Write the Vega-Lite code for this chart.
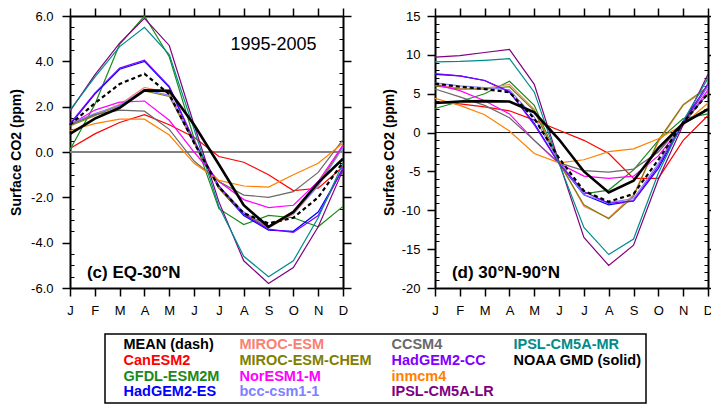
{
"$schema": "https://vega.github.io/schema/vega-lite/v6.json",
"padding": {"left": 9, "top": 7, "right": 5, "bottom": 5},
"config": {
  "font": "Liberation Sans",
  "view": {"stroke": null},
  "locale": {"number": {"decimal": ".", "thousands": ",", "grouping": [3], "currency": ["$", ""], "minus": "-"}},
  "axis": {"grid": false, "domainColor": "black", "domainWidth": 2, "tickColor": "black", "tickWidth": 1.5, "labelColor": "black", "labelFont": "Liberation Sans", "labelFontSize": 13, "titleFont": "Liberation Sans", "titleFontSize": 14, "titleFontWeight": "bold", "titleColor": "black"}
},
"datasets": {"co2": [
{"region":"EQ-30N","model":"MEAN","month":1,"co2":1.2},{"region":"EQ-30N","model":"MEAN","month":2,"co2":2.15},{"region":"EQ-30N","model":"MEAN","month":3,"co2":3.0},{"region":"EQ-30N","model":"MEAN","month":4,"co2":3.45},{"region":"EQ-30N","model":"MEAN","month":5,"co2":2.55},{"region":"EQ-30N","model":"MEAN","month":6,"co2":0.4},{"region":"EQ-30N","model":"MEAN","month":7,"co2":-1.55},{"region":"EQ-30N","model":"MEAN","month":8,"co2":-2.7},{"region":"EQ-30N","model":"MEAN","month":9,"co2":-3.15},{"region":"EQ-30N","model":"MEAN","month":10,"co2":-2.9},{"region":"EQ-30N","model":"MEAN","month":11,"co2":-2.0},{"region":"EQ-30N","model":"MEAN","month":12,"co2":-0.45},
{"region":"EQ-30N","model":"NOAA GMD (solid)","month":1,"co2":0.8},{"region":"EQ-30N","model":"NOAA GMD (solid)","month":2,"co2":1.47},{"region":"EQ-30N","model":"NOAA GMD (solid)","month":3,"co2":1.95},{"region":"EQ-30N","model":"NOAA GMD (solid)","month":4,"co2":2.72},{"region":"EQ-30N","model":"NOAA GMD (solid)","month":5,"co2":2.7},{"region":"EQ-30N","model":"NOAA GMD (solid)","month":6,"co2":1.2},{"region":"EQ-30N","model":"NOAA GMD (solid)","month":7,"co2":-0.55},{"region":"EQ-30N","model":"NOAA GMD (solid)","month":8,"co2":-2.35},{"region":"EQ-30N","model":"NOAA GMD (solid)","month":9,"co2":-3.3},{"region":"EQ-30N","model":"NOAA GMD (solid)","month":10,"co2":-2.65},{"region":"EQ-30N","model":"NOAA GMD (solid)","month":11,"co2":-1.35},{"region":"EQ-30N","model":"NOAA GMD (solid)","month":12,"co2":-0.3},
{"region":"EQ-30N","model":"CanESM2","month":1,"co2":0.15},{"region":"EQ-30N","model":"CanESM2","month":2,"co2":0.8},{"region":"EQ-30N","model":"CanESM2","month":3,"co2":1.3},{"region":"EQ-30N","model":"CanESM2","month":4,"co2":1.65},{"region":"EQ-30N","model":"CanESM2","month":5,"co2":1.2},{"region":"EQ-30N","model":"CanESM2","month":6,"co2":0.65},{"region":"EQ-30N","model":"CanESM2","month":7,"co2":-0.2},{"region":"EQ-30N","model":"CanESM2","month":8,"co2":-0.45},{"region":"EQ-30N","model":"CanESM2","month":9,"co2":-1.0},{"region":"EQ-30N","model":"CanESM2","month":10,"co2":-1.7},{"region":"EQ-30N","model":"CanESM2","month":11,"co2":-1.6},{"region":"EQ-30N","model":"CanESM2","month":12,"co2":-0.65},
{"region":"EQ-30N","model":"GFDL-ESM2M","month":1,"co2":0.1},{"region":"EQ-30N","model":"GFDL-ESM2M","month":2,"co2":2.1},{"region":"EQ-30N","model":"GFDL-ESM2M","month":3,"co2":4.75},{"region":"EQ-30N","model":"GFDL-ESM2M","month":4,"co2":6.0},{"region":"EQ-30N","model":"GFDL-ESM2M","month":5,"co2":4.2},{"region":"EQ-30N","model":"GFDL-ESM2M","month":6,"co2":0.6},{"region":"EQ-30N","model":"GFDL-ESM2M","month":7,"co2":-2.5},{"region":"EQ-30N","model":"GFDL-ESM2M","month":8,"co2":-3.2},{"region":"EQ-30N","model":"GFDL-ESM2M","month":9,"co2":-2.8},{"region":"EQ-30N","model":"GFDL-ESM2M","month":10,"co2":-2.9},{"region":"EQ-30N","model":"GFDL-ESM2M","month":11,"co2":-3.3},{"region":"EQ-30N","model":"GFDL-ESM2M","month":12,"co2":-2.4},
{"region":"EQ-30N","model":"HadGEM2-ES","month":1,"co2":1.2},{"region":"EQ-30N","model":"HadGEM2-ES","month":2,"co2":2.55},{"region":"EQ-30N","model":"HadGEM2-ES","month":3,"co2":3.65},{"region":"EQ-30N","model":"HadGEM2-ES","month":4,"co2":4.0},{"region":"EQ-30N","model":"HadGEM2-ES","month":5,"co2":2.85},{"region":"EQ-30N","model":"HadGEM2-ES","month":6,"co2":0.45},{"region":"EQ-30N","model":"HadGEM2-ES","month":7,"co2":-1.6},{"region":"EQ-30N","model":"HadGEM2-ES","month":8,"co2":-2.8},{"region":"EQ-30N","model":"HadGEM2-ES","month":9,"co2":-3.45},{"region":"EQ-30N","model":"HadGEM2-ES","month":10,"co2":-3.5},{"region":"EQ-30N","model":"HadGEM2-ES","month":11,"co2":-2.65},{"region":"EQ-30N","model":"HadGEM2-ES","month":12,"co2":-0.75},
{"region":"EQ-30N","model":"MIROC-ESM","month":1,"co2":1.2},{"region":"EQ-30N","model":"MIROC-ESM","month":2,"co2":1.65},{"region":"EQ-30N","model":"MIROC-ESM","month":3,"co2":2.1},{"region":"EQ-30N","model":"MIROC-ESM","month":4,"co2":2.85},{"region":"EQ-30N","model":"MIROC-ESM","month":5,"co2":2.6},{"region":"EQ-30N","model":"MIROC-ESM","month":6,"co2":0.5},{"region":"EQ-30N","model":"MIROC-ESM","month":7,"co2":-1.6},{"region":"EQ-30N","model":"MIROC-ESM","month":8,"co2":-2.7},{"region":"EQ-30N","model":"MIROC-ESM","month":9,"co2":-3.35},{"region":"EQ-30N","model":"MIROC-ESM","month":10,"co2":-2.75},{"region":"EQ-30N","model":"MIROC-ESM","month":11,"co2":-1.5},{"region":"EQ-30N","model":"MIROC-ESM","month":12,"co2":0.3},
{"region":"EQ-30N","model":"MIROC-ESM-CHEM","month":1,"co2":1.15},{"region":"EQ-30N","model":"MIROC-ESM-CHEM","month":2,"co2":1.6},{"region":"EQ-30N","model":"MIROC-ESM-CHEM","month":3,"co2":2.05},{"region":"EQ-30N","model":"MIROC-ESM-CHEM","month":4,"co2":2.7},{"region":"EQ-30N","model":"MIROC-ESM-CHEM","month":5,"co2":2.45},{"region":"EQ-30N","model":"MIROC-ESM-CHEM","month":6,"co2":0.4},{"region":"EQ-30N","model":"MIROC-ESM-CHEM","month":7,"co2":-1.6},{"region":"EQ-30N","model":"MIROC-ESM-CHEM","month":8,"co2":-2.75},{"region":"EQ-30N","model":"MIROC-ESM-CHEM","month":9,"co2":-3.3},{"region":"EQ-30N","model":"MIROC-ESM-CHEM","month":10,"co2":-2.6},{"region":"EQ-30N","model":"MIROC-ESM-CHEM","month":11,"co2":-1.4},{"region":"EQ-30N","model":"MIROC-ESM-CHEM","month":12,"co2":0.25},
{"region":"EQ-30N","model":"NorESM1-M","month":1,"co2":1.2},{"region":"EQ-30N","model":"NorESM1-M","month":2,"co2":1.85},{"region":"EQ-30N","model":"NorESM1-M","month":3,"co2":2.2},{"region":"EQ-30N","model":"NorESM1-M","month":4,"co2":2.25},{"region":"EQ-30N","model":"NorESM1-M","month":5,"co2":1.4},{"region":"EQ-30N","model":"NorESM1-M","month":6,"co2":0.0},{"region":"EQ-30N","model":"NorESM1-M","month":7,"co2":-1.3},{"region":"EQ-30N","model":"NorESM1-M","month":8,"co2":-2.1},{"region":"EQ-30N","model":"NorESM1-M","month":9,"co2":-2.45},{"region":"EQ-30N","model":"NorESM1-M","month":10,"co2":-2.35},{"region":"EQ-30N","model":"NorESM1-M","month":11,"co2":-1.3},{"region":"EQ-30N","model":"NorESM1-M","month":12,"co2":0.3},
{"region":"EQ-30N","model":"bcc-csm1-1","month":1,"co2":1.25},{"region":"EQ-30N","model":"bcc-csm1-1","month":2,"co2":1.7},{"region":"EQ-30N","model":"bcc-csm1-1","month":3,"co2":2.05},{"region":"EQ-30N","model":"bcc-csm1-1","month":4,"co2":2.75},{"region":"EQ-30N","model":"bcc-csm1-1","month":5,"co2":2.5},{"region":"EQ-30N","model":"bcc-csm1-1","month":6,"co2":0.45},{"region":"EQ-30N","model":"bcc-csm1-1","month":7,"co2":-1.5},{"region":"EQ-30N","model":"bcc-csm1-1","month":8,"co2":-2.65},{"region":"EQ-30N","model":"bcc-csm1-1","month":9,"co2":-3.3},{"region":"EQ-30N","model":"bcc-csm1-1","month":10,"co2":-2.7},{"region":"EQ-30N","model":"bcc-csm1-1","month":11,"co2":-1.5},{"region":"EQ-30N","model":"bcc-csm1-1","month":12,"co2":0.2},
{"region":"EQ-30N","model":"CCSM4","month":1,"co2":1.2},{"region":"EQ-30N","model":"CCSM4","month":2,"co2":1.65},{"region":"EQ-30N","model":"CCSM4","month":3,"co2":1.85},{"region":"EQ-30N","model":"CCSM4","month":4,"co2":1.8},{"region":"EQ-30N","model":"CCSM4","month":5,"co2":1.0},{"region":"EQ-30N","model":"CCSM4","month":6,"co2":-0.4},{"region":"EQ-30N","model":"CCSM4","month":7,"co2":-1.3},{"region":"EQ-30N","model":"CCSM4","month":8,"co2":-1.9},{"region":"EQ-30N","model":"CCSM4","month":9,"co2":-2.0},{"region":"EQ-30N","model":"CCSM4","month":10,"co2":-1.75},{"region":"EQ-30N","model":"CCSM4","month":11,"co2":-0.9},{"region":"EQ-30N","model":"CCSM4","month":12,"co2":0.55},
{"region":"EQ-30N","model":"HadGEM2-CC","month":1,"co2":1.25},{"region":"EQ-30N","model":"HadGEM2-CC","month":2,"co2":2.6},{"region":"EQ-30N","model":"HadGEM2-CC","month":3,"co2":3.7},{"region":"EQ-30N","model":"HadGEM2-CC","month":4,"co2":4.05},{"region":"EQ-30N","model":"HadGEM2-CC","month":5,"co2":2.9},{"region":"EQ-30N","model":"HadGEM2-CC","month":6,"co2":0.5},{"region":"EQ-30N","model":"HadGEM2-CC","month":7,"co2":-1.5},{"region":"EQ-30N","model":"HadGEM2-CC","month":8,"co2":-2.75},{"region":"EQ-30N","model":"HadGEM2-CC","month":9,"co2":-3.4},{"region":"EQ-30N","model":"HadGEM2-CC","month":10,"co2":-3.55},{"region":"EQ-30N","model":"HadGEM2-CC","month":11,"co2":-2.8},{"region":"EQ-30N","model":"HadGEM2-CC","month":12,"co2":-0.7},
{"region":"EQ-30N","model":"inmcm4","month":1,"co2":0.95},{"region":"EQ-30N","model":"inmcm4","month":2,"co2":1.25},{"region":"EQ-30N","model":"inmcm4","month":3,"co2":1.45},{"region":"EQ-30N","model":"inmcm4","month":4,"co2":1.45},{"region":"EQ-30N","model":"inmcm4","month":5,"co2":0.75},{"region":"EQ-30N","model":"inmcm4","month":6,"co2":-0.5},{"region":"EQ-30N","model":"inmcm4","month":7,"co2":-1.25},{"region":"EQ-30N","model":"inmcm4","month":8,"co2":-1.5},{"region":"EQ-30N","model":"inmcm4","month":9,"co2":-1.55},{"region":"EQ-30N","model":"inmcm4","month":10,"co2":-1.0},{"region":"EQ-30N","model":"inmcm4","month":11,"co2":-0.5},{"region":"EQ-30N","model":"inmcm4","month":12,"co2":0.4},
{"region":"EQ-30N","model":"IPSL-CM5A-LR","month":1,"co2":1.8},{"region":"EQ-30N","model":"IPSL-CM5A-LR","month":2,"co2":3.4},{"region":"EQ-30N","model":"IPSL-CM5A-LR","month":3,"co2":4.8},{"region":"EQ-30N","model":"IPSL-CM5A-LR","month":4,"co2":5.9},{"region":"EQ-30N","model":"IPSL-CM5A-LR","month":5,"co2":4.7},{"region":"EQ-30N","model":"IPSL-CM5A-LR","month":6,"co2":1.2},{"region":"EQ-30N","model":"IPSL-CM5A-LR","month":7,"co2":-2.2},{"region":"EQ-30N","model":"IPSL-CM5A-LR","month":8,"co2":-4.8},{"region":"EQ-30N","model":"IPSL-CM5A-LR","month":9,"co2":-5.8},{"region":"EQ-30N","model":"IPSL-CM5A-LR","month":10,"co2":-5.1},{"region":"EQ-30N","model":"IPSL-CM5A-LR","month":11,"co2":-3.3},{"region":"EQ-30N","model":"IPSL-CM5A-LR","month":12,"co2":-0.8},
{"region":"EQ-30N","model":"IPSL-CM5A-MR","month":1,"co2":1.85},{"region":"EQ-30N","model":"IPSL-CM5A-MR","month":2,"co2":3.3},{"region":"EQ-30N","model":"IPSL-CM5A-MR","month":3,"co2":4.65},{"region":"EQ-30N","model":"IPSL-CM5A-MR","month":4,"co2":5.5},{"region":"EQ-30N","model":"IPSL-CM5A-MR","month":5,"co2":4.3},{"region":"EQ-30N","model":"IPSL-CM5A-MR","month":6,"co2":1.0},{"region":"EQ-30N","model":"IPSL-CM5A-MR","month":7,"co2":-2.4},{"region":"EQ-30N","model":"IPSL-CM5A-MR","month":8,"co2":-4.6},{"region":"EQ-30N","model":"IPSL-CM5A-MR","month":9,"co2":-5.5},{"region":"EQ-30N","model":"IPSL-CM5A-MR","month":10,"co2":-4.8},{"region":"EQ-30N","model":"IPSL-CM5A-MR","month":11,"co2":-2.9},{"region":"EQ-30N","model":"IPSL-CM5A-MR","month":12,"co2":-0.5},
{"region":"30N-90N","model":"MEAN","month":1,"co2":6.3},{"region":"30N-90N","model":"MEAN","month":2,"co2":5.9},{"region":"30N-90N","model":"MEAN","month":3,"co2":5.6},{"region":"30N-90N","model":"MEAN","month":4,"co2":5.2},{"region":"30N-90N","model":"MEAN","month":5,"co2":1.8},{"region":"30N-90N","model":"MEAN","month":6,"co2":-3.3},{"region":"30N-90N","model":"MEAN","month":7,"co2":-7.5},{"region":"30N-90N","model":"MEAN","month":8,"co2":-8.9},{"region":"30N-90N","model":"MEAN","month":9,"co2":-7.9},{"region":"30N-90N","model":"MEAN","month":10,"co2":-3.5},{"region":"30N-90N","model":"MEAN","month":11,"co2":1.3},{"region":"30N-90N","model":"MEAN","month":12,"co2":5.0},
{"region":"30N-90N","model":"NOAA GMD (solid)","month":1,"co2":3.8},{"region":"30N-90N","model":"NOAA GMD (solid)","month":2,"co2":4.0},{"region":"30N-90N","model":"NOAA GMD (solid)","month":3,"co2":4.05},{"region":"30N-90N","model":"NOAA GMD (solid)","month":4,"co2":4.0},{"region":"30N-90N","model":"NOAA GMD (solid)","month":5,"co2":2.6},{"region":"30N-90N","model":"NOAA GMD (solid)","month":6,"co2":-0.9},{"region":"30N-90N","model":"NOAA GMD (solid)","month":7,"co2":-5.0},{"region":"30N-90N","model":"NOAA GMD (solid)","month":8,"co2":-7.7},{"region":"30N-90N","model":"NOAA GMD (solid)","month":9,"co2":-6.2},{"region":"30N-90N","model":"NOAA GMD (solid)","month":10,"co2":-2.0},{"region":"30N-90N","model":"NOAA GMD (solid)","month":11,"co2":1.2},{"region":"30N-90N","model":"NOAA GMD (solid)","month":12,"co2":3.0},
{"region":"30N-90N","model":"CanESM2","month":1,"co2":3.9},{"region":"30N-90N","model":"CanESM2","month":2,"co2":3.7},{"region":"30N-90N","model":"CanESM2","month":3,"co2":3.3},{"region":"30N-90N","model":"CanESM2","month":4,"co2":2.8},{"region":"30N-90N","model":"CanESM2","month":5,"co2":1.6},{"region":"30N-90N","model":"CanESM2","month":6,"co2":0.3},{"region":"30N-90N","model":"CanESM2","month":7,"co2":-1.0},{"region":"30N-90N","model":"CanESM2","month":8,"co2":-2.7},{"region":"30N-90N","model":"CanESM2","month":9,"co2":-5.9},{"region":"30N-90N","model":"CanESM2","month":10,"co2":-5.9},{"region":"30N-90N","model":"CanESM2","month":11,"co2":-1.0},{"region":"30N-90N","model":"CanESM2","month":12,"co2":2.2},
{"region":"30N-90N","model":"GFDL-ESM2M","month":1,"co2":3.1},{"region":"30N-90N","model":"GFDL-ESM2M","month":2,"co2":4.0},{"region":"30N-90N","model":"GFDL-ESM2M","month":3,"co2":5.0},{"region":"30N-90N","model":"GFDL-ESM2M","month":4,"co2":6.6},{"region":"30N-90N","model":"GFDL-ESM2M","month":5,"co2":3.5},{"region":"30N-90N","model":"GFDL-ESM2M","month":6,"co2":-3.8},{"region":"30N-90N","model":"GFDL-ESM2M","month":7,"co2":-7.9},{"region":"30N-90N","model":"GFDL-ESM2M","month":8,"co2":-7.4},{"region":"30N-90N","model":"GFDL-ESM2M","month":9,"co2":-4.8},{"region":"30N-90N","model":"GFDL-ESM2M","month":10,"co2":-1.0},{"region":"30N-90N","model":"GFDL-ESM2M","month":11,"co2":1.8},{"region":"30N-90N","model":"GFDL-ESM2M","month":12,"co2":2.4},
{"region":"30N-90N","model":"HadGEM2-ES","month":1,"co2":7.5},{"region":"30N-90N","model":"HadGEM2-ES","month":2,"co2":7.3},{"region":"30N-90N","model":"HadGEM2-ES","month":3,"co2":6.7},{"region":"30N-90N","model":"HadGEM2-ES","month":4,"co2":5.2},{"region":"30N-90N","model":"HadGEM2-ES","month":5,"co2":1.2},{"region":"30N-90N","model":"HadGEM2-ES","month":6,"co2":-4.0},{"region":"30N-90N","model":"HadGEM2-ES","month":7,"co2":-8.0},{"region":"30N-90N","model":"HadGEM2-ES","month":8,"co2":-9.3},{"region":"30N-90N","model":"HadGEM2-ES","month":9,"co2":-8.8},{"region":"30N-90N","model":"HadGEM2-ES","month":10,"co2":-4.6},{"region":"30N-90N","model":"HadGEM2-ES","month":11,"co2":1.2},{"region":"30N-90N","model":"HadGEM2-ES","month":12,"co2":6.0},
{"region":"30N-90N","model":"MIROC-ESM","month":1,"co2":6.2},{"region":"30N-90N","model":"MIROC-ESM","month":2,"co2":5.7},{"region":"30N-90N","model":"MIROC-ESM","month":3,"co2":5.7},{"region":"30N-90N","model":"MIROC-ESM","month":4,"co2":6.2},{"region":"30N-90N","model":"MIROC-ESM","month":5,"co2":3.0},{"region":"30N-90N","model":"MIROC-ESM","month":6,"co2":-3.7},{"region":"30N-90N","model":"MIROC-ESM","month":7,"co2":-9.5},{"region":"30N-90N","model":"MIROC-ESM","month":8,"co2":-11.0},{"region":"30N-90N","model":"MIROC-ESM","month":9,"co2":-8.0},{"region":"30N-90N","model":"MIROC-ESM","month":10,"co2":-1.2},{"region":"30N-90N","model":"MIROC-ESM","month":11,"co2":3.5},{"region":"30N-90N","model":"MIROC-ESM","month":12,"co2":5.7},
{"region":"30N-90N","model":"MIROC-ESM-CHEM","month":1,"co2":6.0},{"region":"30N-90N","model":"MIROC-ESM-CHEM","month":2,"co2":5.6},{"region":"30N-90N","model":"MIROC-ESM-CHEM","month":3,"co2":5.6},{"region":"30N-90N","model":"MIROC-ESM-CHEM","month":4,"co2":5.9},{"region":"30N-90N","model":"MIROC-ESM-CHEM","month":5,"co2":2.8},{"region":"30N-90N","model":"MIROC-ESM-CHEM","month":6,"co2":-3.9},{"region":"30N-90N","model":"MIROC-ESM-CHEM","month":7,"co2":-9.3},{"region":"30N-90N","model":"MIROC-ESM-CHEM","month":8,"co2":-11.1},{"region":"30N-90N","model":"MIROC-ESM-CHEM","month":9,"co2":-8.2},{"region":"30N-90N","model":"MIROC-ESM-CHEM","month":10,"co2":-1.0},{"region":"30N-90N","model":"MIROC-ESM-CHEM","month":11,"co2":3.6},{"region":"30N-90N","model":"MIROC-ESM-CHEM","month":12,"co2":5.9},
{"region":"30N-90N","model":"NorESM1-M","month":1,"co2":6.2},{"region":"30N-90N","model":"NorESM1-M","month":2,"co2":5.4},{"region":"30N-90N","model":"NorESM1-M","month":3,"co2":4.1},{"region":"30N-90N","model":"NorESM1-M","month":4,"co2":2.4},{"region":"30N-90N","model":"NorESM1-M","month":5,"co2":-1.0},{"region":"30N-90N","model":"NorESM1-M","month":6,"co2":-4.0},{"region":"30N-90N","model":"NorESM1-M","month":7,"co2":-5.6},{"region":"30N-90N","model":"NorESM1-M","month":8,"co2":-5.9},{"region":"30N-90N","model":"NorESM1-M","month":9,"co2":-5.6},{"region":"30N-90N","model":"NorESM1-M","month":10,"co2":-3.0},{"region":"30N-90N","model":"NorESM1-M","month":11,"co2":1.0},{"region":"30N-90N","model":"NorESM1-M","month":12,"co2":5.5},
{"region":"30N-90N","model":"bcc-csm1-1","month":1,"co2":6.4},{"region":"30N-90N","model":"bcc-csm1-1","month":2,"co2":6.0},{"region":"30N-90N","model":"bcc-csm1-1","month":3,"co2":5.8},{"region":"30N-90N","model":"bcc-csm1-1","month":4,"co2":5.5},{"region":"30N-90N","model":"bcc-csm1-1","month":5,"co2":2.0},{"region":"30N-90N","model":"bcc-csm1-1","month":6,"co2":-3.8},{"region":"30N-90N","model":"bcc-csm1-1","month":7,"co2":-8.0},{"region":"30N-90N","model":"bcc-csm1-1","month":8,"co2":-9.0},{"region":"30N-90N","model":"bcc-csm1-1","month":9,"co2":-8.5},{"region":"30N-90N","model":"bcc-csm1-1","month":10,"co2":-4.0},{"region":"30N-90N","model":"bcc-csm1-1","month":11,"co2":1.5},{"region":"30N-90N","model":"bcc-csm1-1","month":12,"co2":6.0},
{"region":"30N-90N","model":"CCSM4","month":1,"co2":5.6},{"region":"30N-90N","model":"CCSM4","month":2,"co2":4.6},{"region":"30N-90N","model":"CCSM4","month":3,"co2":3.5},{"region":"30N-90N","model":"CCSM4","month":4,"co2":1.9},{"region":"30N-90N","model":"CCSM4","month":5,"co2":-1.0},{"region":"30N-90N","model":"CCSM4","month":6,"co2":-3.9},{"region":"30N-90N","model":"CCSM4","month":7,"co2":-4.9},{"region":"30N-90N","model":"CCSM4","month":8,"co2":-5.1},{"region":"30N-90N","model":"CCSM4","month":9,"co2":-4.7},{"region":"30N-90N","model":"CCSM4","month":10,"co2":-2.5},{"region":"30N-90N","model":"CCSM4","month":11,"co2":1.2},{"region":"30N-90N","model":"CCSM4","month":12,"co2":5.0},
{"region":"30N-90N","model":"HadGEM2-CC","month":1,"co2":7.6},{"region":"30N-90N","model":"HadGEM2-CC","month":2,"co2":7.3},{"region":"30N-90N","model":"HadGEM2-CC","month":3,"co2":6.7},{"region":"30N-90N","model":"HadGEM2-CC","month":4,"co2":5.3},{"region":"30N-90N","model":"HadGEM2-CC","month":5,"co2":1.0},{"region":"30N-90N","model":"HadGEM2-CC","month":6,"co2":-4.0},{"region":"30N-90N","model":"HadGEM2-CC","month":7,"co2":-7.6},{"region":"30N-90N","model":"HadGEM2-CC","month":8,"co2":-9.1},{"region":"30N-90N","model":"HadGEM2-CC","month":9,"co2":-8.8},{"region":"30N-90N","model":"HadGEM2-CC","month":10,"co2":-4.3},{"region":"30N-90N","model":"HadGEM2-CC","month":11,"co2":1.3},{"region":"30N-90N","model":"HadGEM2-CC","month":12,"co2":6.3},
{"region":"30N-90N","model":"inmcm4","month":1,"co2":4.4},{"region":"30N-90N","model":"inmcm4","month":2,"co2":3.5},{"region":"30N-90N","model":"inmcm4","month":3,"co2":2.3},{"region":"30N-90N","model":"inmcm4","month":4,"co2":0.2},{"region":"30N-90N","model":"inmcm4","month":5,"co2":-2.7},{"region":"30N-90N","model":"inmcm4","month":6,"co2":-3.9},{"region":"30N-90N","model":"inmcm4","month":7,"co2":-3.5},{"region":"30N-90N","model":"inmcm4","month":8,"co2":-2.45},{"region":"30N-90N","model":"inmcm4","month":9,"co2":-2.1},{"region":"30N-90N","model":"inmcm4","month":10,"co2":-0.8},{"region":"30N-90N","model":"inmcm4","month":11,"co2":1.0},{"region":"30N-90N","model":"inmcm4","month":12,"co2":3.8},
{"region":"30N-90N","model":"IPSL-CM5A-LR","month":1,"co2":9.7},{"region":"30N-90N","model":"IPSL-CM5A-LR","month":2,"co2":9.9},{"region":"30N-90N","model":"IPSL-CM5A-LR","month":3,"co2":10.3},{"region":"30N-90N","model":"IPSL-CM5A-LR","month":4,"co2":10.7},{"region":"30N-90N","model":"IPSL-CM5A-LR","month":5,"co2":6.2},{"region":"30N-90N","model":"IPSL-CM5A-LR","month":6,"co2":-3.8},{"region":"30N-90N","model":"IPSL-CM5A-LR","month":7,"co2":-13.5},{"region":"30N-90N","model":"IPSL-CM5A-LR","month":8,"co2":-17.1},{"region":"30N-90N","model":"IPSL-CM5A-LR","month":9,"co2":-14.5},{"region":"30N-90N","model":"IPSL-CM5A-LR","month":10,"co2":-6.0},{"region":"30N-90N","model":"IPSL-CM5A-LR","month":11,"co2":1.0},{"region":"30N-90N","model":"IPSL-CM5A-LR","month":12,"co2":7.5},
{"region":"30N-90N","model":"IPSL-CM5A-MR","month":1,"co2":9.1},{"region":"30N-90N","model":"IPSL-CM5A-MR","month":2,"co2":9.15},{"region":"30N-90N","model":"IPSL-CM5A-MR","month":3,"co2":9.3},{"region":"30N-90N","model":"IPSL-CM5A-MR","month":4,"co2":9.5},{"region":"30N-90N","model":"IPSL-CM5A-MR","month":5,"co2":5.2},{"region":"30N-90N","model":"IPSL-CM5A-MR","month":6,"co2":-4.0},{"region":"30N-90N","model":"IPSL-CM5A-MR","month":7,"co2":-12.2},{"region":"30N-90N","model":"IPSL-CM5A-MR","month":8,"co2":-15.7},{"region":"30N-90N","model":"IPSL-CM5A-MR","month":9,"co2":-13.7},{"region":"30N-90N","model":"IPSL-CM5A-MR","month":10,"co2":-5.2},{"region":"30N-90N","model":"IPSL-CM5A-MR","month":11,"co2":1.5},{"region":"30N-90N","model":"IPSL-CM5A-MR","month":12,"co2":7.0}
]},
"spacing": 30,
"resolve": {"scale": {"color": "shared"}},
"hconcat": [
{
  "width": 273, "height": 272,
  "resolve": {"axis": {"x": "independent", "y": "independent"}},
  "layer": [
    {"data": {"values": [{}]}, "mark": {"type": "rule", "color": "#808080", "strokeWidth": 2}, "encoding": {"y": {"datum": 0, "type": "quantitative", "axis": null}}},
    {"data": {"name": "co2"}, "transform": [{"filter": "datum.region === 'EQ-30N' && datum.model !== 'MEAN' && datum.model !== 'NOAA GMD (solid)'"}],
     "mark": {"type": "line", "strokeWidth": 1.2},
     "encoding": {
       "x": {"field": "month", "type": "quantitative", "scale": {"domain": [1, 12], "nice": false, "zero": false},
             "axis": {"orient": "bottom", "values": [1,2,3,4,5,6,7,8,9,10,11,12], "labelExpr": "['J','F','M','A','M','J','J','A','S','O','N','D'][datum.value-1]", "labelFlush": false, "labelAngle": 0, "tickSize": 8, "labelPadding": 8, "title": null}},
       "y": {"field": "co2", "type": "quantitative", "scale": {"domain": [-6, 6], "nice": false, "zero": false},
             "axis": {"orient": "left", "values": [-6,-4,-2,0,2,4,6], "format": ".1f", "tickSize": 8, "labelPadding": 9, "title": "Surface CO2 (ppm)", "titlePadding": 7}},
       "color": {"field": "model", "type": "nominal",
         "scale": {"domain": ["MEAN (dash)", "CanESM2", "GFDL-ESM2M", "HadGEM2-ES", "MIROC-ESM", "MIROC-ESM-CHEM", "NorESM1-M", "bcc-csm1-1", "CCSM4", "HadGEM2-CC", "inmcm4", "IPSL-CM5A-LR", "IPSL-CM5A-MR", "NOAA GMD (solid)", " ", "MEAN"],
                   "range": ["#000000", "#FF0000", "#1A8A1A", "#0000FF", "#FA8072", "#808000", "#FF00FF", "#8080FF", "#696969", "#8000FF", "#FF8000", "#800080", "#008B8B", "#000000", "#FFFFFF", "#000000"]},
         "legend": {"orient": "none", "legendX": 35, "legendY": 318, "columns": 4, "title": null, "values": ["MEAN (dash)", "CanESM2", "GFDL-ESM2M", "HadGEM2-ES", "MIROC-ESM", "MIROC-ESM-CHEM", "NorESM1-M", "bcc-csm1-1", "CCSM4", "HadGEM2-CC", "inmcm4", "IPSL-CM5A-LR", "IPSL-CM5A-MR", "NOAA GMD (solid)", " "],
           "labelFont": "Liberation Sans", "labelFontSize": 14.5, "labelFontWeight": "bold", "labelLimit": 300,
           "symbolSize": 0, "symbolOpacity": 0, "symbolStrokeWidth": 0, "labelOffset": 0, "columnPadding": 5, "rowPadding": 0.7, "padding": 4, "strokeColor": "black",
           "encode": {"labels": {"update": {"fill": {"scale": "color", "field": "value"}}}, "legend": {"update": {"strokeWidth": {"value": 1.5}}}}}}
     }},
    {"data": {"name": "co2"}, "transform": [{"filter": "datum.region === 'EQ-30N' && datum.model === 'NOAA GMD (solid)'"}],
     "mark": {"type": "line", "strokeWidth": 2.6, "color": "black"},
     "encoding": {"x": {"field": "month", "type": "quantitative", "axis": null}, "y": {"field": "co2", "type": "quantitative", "axis": null}}},
    {"data": {"name": "co2"}, "transform": [{"filter": "datum.region === 'EQ-30N' && datum.model === 'MEAN'"}],
     "mark": {"type": "line", "strokeWidth": 2.2, "color": "black", "strokeDash": [4, 3]},
     "encoding": {"x": {"field": "month", "type": "quantitative", "axis": null}, "y": {"field": "co2", "type": "quantitative", "axis": null}}},
    {"data": {"values": [{}]}, "mark": {"type": "point", "opacity": 0},
     "encoding": {"x": {"datum": 1, "type": "quantitative", "axis": {"orient": "top", "values": [1,2,3,4,5,6,7,8,9,10,11,12], "labels": false, "tickSize": 8, "title": null}},
                  "y": {"datum": 0, "type": "quantitative", "axis": {"orient": "right", "values": [-6,-4,-2,0,2,4,6], "labels": false, "tickSize": 8, "title": null}}}},
    {"data": {"values": [{}]}, "mark": {"type": "point", "opacity": 0},
     "encoding": {"x": {"datum": 1, "type": "quantitative", "axis": null},
                  "y": {"datum": 0, "type": "quantitative", "axis": {"orient": "left", "values": [-5.5,-5,-4.5,-3.5,-3,-2.5,-1.5,-1,-0.5,0.5,1,1.5,2.5,3,3.5,4.5,5,5.5], "labels": false, "domain": false, "tickSize": -4, "tickWidth": 1, "title": null}}}},
    {"data": {"values": [{}]}, "mark": {"type": "point", "opacity": 0},
     "encoding": {"x": {"datum": 1, "type": "quantitative", "axis": null},
                  "y": {"datum": 0, "type": "quantitative", "axis": {"orient": "right", "values": [-5.5,-5,-4.5,-3.5,-3,-2.5,-1.5,-1,-0.5,0.5,1,1.5,2.5,3,3.5,4.5,5,5.5], "labels": false, "domain": false, "tickSize": -4, "tickWidth": 1, "title": null}}}},
    {"data": {"values": [{}]}, "mark": {"type": "text", "text": "1995-2005", "fontSize": 18, "align": "center", "baseline": "middle", "color": "black"},
     "encoding": {"x": {"datum": 9.2, "type": "quantitative", "axis": null}, "y": {"datum": 4.72, "type": "quantitative", "axis": null}}},
    {"data": {"values": [{}]}, "mark": {"type": "text", "text": "(c) EQ-30°N", "fontSize": 17, "fontWeight": "bold", "align": "left", "baseline": "middle", "color": "black"},
     "encoding": {"x": {"datum": 1.68, "type": "quantitative", "axis": null}, "y": {"datum": -5.34, "type": "quantitative", "axis": null}}}
  ]
},
{
  "width": 273, "height": 272,
  "resolve": {"axis": {"x": "independent", "y": "independent"}},
  "layer": [
    {"data": {"values": [{}]}, "mark": {"type": "rule", "color": "black", "strokeWidth": 1}, "encoding": {"y": {"datum": 0, "type": "quantitative", "axis": null}}},
    {"data": {"name": "co2"}, "transform": [{"filter": "datum.region === '30N-90N' && datum.model !== 'MEAN' && datum.model !== 'NOAA GMD (solid)'"}],
     "mark": {"type": "line", "strokeWidth": 1.2},
     "encoding": {
       "x": {"field": "month", "type": "quantitative", "scale": {"domain": [1, 12], "nice": false, "zero": false},
             "axis": {"orient": "bottom", "values": [1,2,3,4,5,6,7,8,9,10,11,12], "labelExpr": "['J','F','M','A','M','J','J','A','S','O','N','D'][datum.value-1]", "labelFlush": false, "labelAngle": 0, "tickSize": 8, "labelPadding": 8, "title": null}},
       "y": {"field": "co2", "type": "quantitative", "scale": {"domain": [-20, 15], "nice": false, "zero": false},
             "axis": {"orient": "left", "values": [-20,-15,-10,-5,0,5,10,15], "format": "d", "tickSize": 8, "labelPadding": 7, "title": "Surface CO2 (ppm)", "titlePadding": 5}},
       "color": {"field": "model", "type": "nominal"}
     }},
    {"data": {"name": "co2"}, "transform": [{"filter": "datum.region === '30N-90N' && datum.model === 'NOAA GMD (solid)'"}],
     "mark": {"type": "line", "strokeWidth": 2.6, "color": "black"},
     "encoding": {"x": {"field": "month", "type": "quantitative", "axis": null}, "y": {"field": "co2", "type": "quantitative", "axis": null}}},
    {"data": {"name": "co2"}, "transform": [{"filter": "datum.region === '30N-90N' && datum.model === 'MEAN'"}],
     "mark": {"type": "line", "strokeWidth": 2.2, "color": "black", "strokeDash": [4, 3]},
     "encoding": {"x": {"field": "month", "type": "quantitative", "axis": null}, "y": {"field": "co2", "type": "quantitative", "axis": null}}},
    {"data": {"values": [{}]}, "mark": {"type": "point", "opacity": 0},
     "encoding": {"x": {"datum": 1, "type": "quantitative", "axis": {"orient": "top", "values": [1,2,3,4,5,6,7,8,9,10,11,12], "labels": false, "tickSize": 8, "title": null}},
                  "y": {"datum": 0, "type": "quantitative", "axis": {"orient": "right", "values": [-20,-15,-10,-5,0,5,10,15], "labels": false, "tickSize": 8, "title": null}}}},
    {"data": {"values": [{}]}, "mark": {"type": "point", "opacity": 0},
     "encoding": {"x": {"datum": 1, "type": "quantitative", "axis": null},
                  "y": {"datum": 0, "type": "quantitative", "axis": {"orient": "left", "values": [-19,-18,-17,-16,-14,-13,-12,-11,-9,-8,-7,-6,-4,-3,-2,-1,1,2,3,4,6,7,8,9,11,12,13,14], "labels": false, "domain": false, "tickSize": -4, "tickWidth": 1, "title": null}}}},
    {"data": {"values": [{}]}, "mark": {"type": "point", "opacity": 0},
     "encoding": {"x": {"datum": 1, "type": "quantitative", "axis": null},
                  "y": {"datum": 0, "type": "quantitative", "axis": {"orient": "right", "values": [-19,-18,-17,-16,-14,-13,-12,-11,-9,-8,-7,-6,-4,-3,-2,-1,1,2,3,4,6,7,8,9,11,12,13,14], "labels": false, "domain": false, "tickSize": -4, "tickWidth": 1, "title": null}}}},
    {"data": {"values": [{}]}, "mark": {"type": "text", "text": "(d) 30°N-90°N", "fontSize": 17, "fontWeight": "bold", "align": "left", "baseline": "middle", "color": "black"},
     "encoding": {"x": {"datum": 1.68, "type": "quantitative", "axis": null}, "y": {"datum": -18.07, "type": "quantitative", "axis": null}}}
  ]
}
]
}
